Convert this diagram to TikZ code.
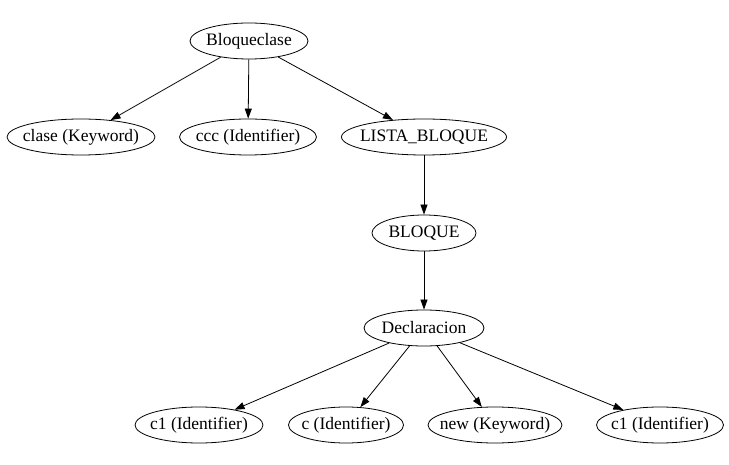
\documentclass[tikz,border=0pt]{standalone}
\usepackage{fontspec}
\setmainfont{Liberation Serif}
\usetikzlibrary{shapes.geometric,arrows.meta}
\begin{document}
\begin{tikzpicture}[x=1pt,y=-1pt,
  gv/.style={draw,ellipse,line width=0.8pt,minimum height=36pt,inner xsep=-30pt,inner ysep=0pt,font=\fontsize{17.5}{20}\selectfont},
  edge/.style={draw,line width=0.8pt,-{Triangle[length=10pt,width=7pt]}}]
\useasboundingbox (0,0) rectangle (729,465);
\node[gv,minimum width=118pt] (root) at (249,41) {Bloqueclase};
\node[gv,minimum width=148pt] (clase) at (81,137) {clase (Keyword)};
\node[gv,minimum width=137pt] (ccc) at (248,137) {ccc (Identifier)};
\node[gv,minimum width=165pt] (lista) at (424,137) {LISTA\_BLOQUE};
\node[gv,minimum width=104pt] (bloque) at (424,233) {BLOQUE};
\node[gv,minimum width=120pt] (decl) at (424,328) {Declaracion};
\node[gv,minimum width=128pt] (c1a) at (199,425) {c1 (Identifier)};
\node[gv,minimum width=115pt] (c) at (346,425) {c (Identifier)};
\node[gv,minimum width=134pt] (new) at (495,425) {new (Keyword)};
\node[gv,minimum width=127pt] (c1b) at (660,425) {c1 (Identifier)};
\draw[edge] (root) -- (clase);
\draw[edge] (root) -- (ccc);
\draw[edge] (root) -- (lista);
\draw[edge] (lista) -- (bloque);
\draw[edge] (bloque) -- (decl);
\draw[edge] (decl) -- (c1a);
\draw[edge] (decl) -- (c);
\draw[edge] (decl) -- (new);
\draw[edge] (decl) -- (c1b);
\end{tikzpicture}
\end{document}
